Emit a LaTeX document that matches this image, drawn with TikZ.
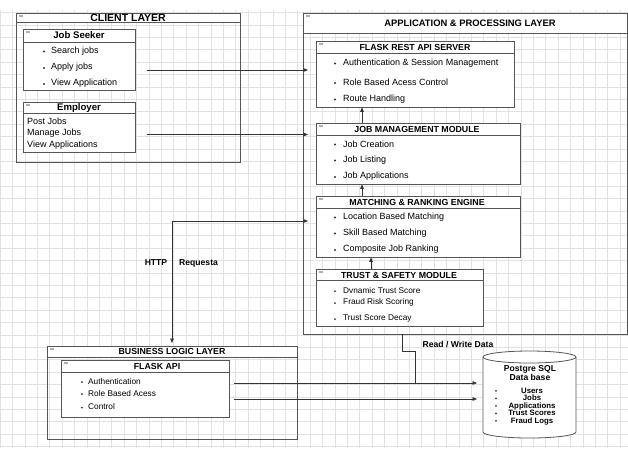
\documentclass[tikz,border=0pt]{standalone}
\usepackage{fontspec}
\setmainfont{Liberation Sans}
\usetikzlibrary{arrows.meta,fit}
\definecolor{linec}{HTML}{555555}
\definecolor{gridc}{HTML}{E2E2E2}
\definecolor{iconc}{HTML}{B0B0B0}
\begin{document}
\begin{tikzpicture}[x=1pt,y=-1pt,
  box/.style={draw=linec, line width=0.8pt, fill=white, inner sep=0pt},
  cont/.style={draw=linec, line width=0.8pt, inner sep=0pt},
  hl/.style={draw=linec, line width=0.7pt},
  bigttl/.style={font=\bfseries\fontsize{10.5}{12}\selectfont, inner sep=0pt},
  ttl/.style={font=\bfseries\fontsize{8.8}{10}\selectfont, inner sep=0pt},
  itm/.style={anchor=west, font=\fontsize{9}{10}\selectfont, inner sep=0pt},
  sitm/.style={anchor=west, font=\fontsize{8.3}{10}\selectfont, inner sep=0pt},
  lbl/.style={font=\bfseries\fontsize{8.6}{10}\selectfont, inner sep=0pt},
  dbt/.style={font=\bfseries\fontsize{8.6}{9}\selectfont, inner sep=0pt},
  dbi/.style={font=\bfseries\fontsize{7.8}{8}\selectfont, inner sep=0pt, anchor=base},
  bul/.style={fill=black!80},
  arr/.style={-{Triangle[length=4.5pt,width=3.6pt]}, line width=0.7pt, draw=black!80},
  darr/.style={{Triangle[length=4.5pt,width=3.6pt]}-{Triangle[length=4.5pt,width=3.6pt]}, line width=0.7pt, draw=black!80},
  ln/.style={line width=0.7pt, draw=black!80},
  icon/.style={fill=iconc}
]
\useasboundingbox (0,0) rectangle (628,448);
\fill[white] (0,0) rectangle (628,448);
\draw[gridc, line width=0.5pt, step=12.4pt] (0,10) grid (628,448);

% ---------------- CLIENT LAYER ----------------
\node[cont, fit={(16,13)(240,162)}] (client) {};
\filldraw[fill=white, draw=linec, line width=0.8pt] (16,13) rectangle (240,22);
\fill[icon] (19,15) rectangle (23,17);
\node[bigttl] (clientT) at (128,17.5) {CLIENT LAYER};

\node[box, fit={(23,29)(135,90)}] (js) {};
\draw[hl] (23,42) -- (135,42);
\fill[icon] (26,31) rectangle (30,33);
\node[ttl, font=\bfseries\fontsize{9.6}{11}\selectfont] (jsT) at (79,35.5) {Job Seeker};
\fill[bul] (44,51.5) circle (1.1);
\node[itm] (js1) at (51,51) {Search jobs};
\fill[bul] (44,68) circle (1.1);
\node[itm] (js2) at (51,67.5) {Apply jobs};
\fill[bul] (44,84) circle (1.1);
\node[itm] (js3) at (51,83.5) {View Application};

\node[box, fit={(23,102)(135,152)}] (emp) {};
\draw[hl] (23,113) -- (135,113);
\fill[icon] (26,104) rectangle (30,106);
\node[ttl, font=\bfseries\fontsize{9.6}{11}\selectfont] (empT) at (79,108) {Employer};
\node[itm] (emp1) at (27,121) {Post Jobs};
\node[itm] (emp2) at (27,133) {Manage Jobs};
\node[itm] (emp3) at (27,145.5) {View Applications};

% ---------------- APPLICATION LAYER ----------------
\node[cont, fit={(303,13)(627,334)}] (app) {};
\filldraw[fill=white, draw=linec, line width=0.8pt] (303,13) rectangle (627,33);
\fill[icon] (306,15) rectangle (310,17);
\node[ttl, font=\bfseries\fontsize{9.4}{11}\selectfont] (appT) at (470,23) {APPLICATION \& PROCESSING LAYER};

% Flask REST API server
\node[box, fit={(316,41)(514,107)}] (rest) {};
\draw[hl] (316,53) -- (514,53);
\fill[icon] (319,43) rectangle (323,45);
\node[ttl] (restT) at (415,47) {FLASK REST API SERVER};
\fill[bul] (335,63.5) circle (1.1);
\node[itm] (rest1) at (343,63) {Authentication \& Session Management};
\fill[bul] (335,83) circle (1.1);
\node[itm] (rest2) at (343,82.5) {Role Based Acess Control};
\fill[bul] (335,99.5) circle (1.1);
\node[itm] (rest3) at (343,99) {Route Handling};

% Job management module
\node[box, fit={(316,123)(520,184)}] (jmm) {};
\draw[hl] (316,135) -- (520,135);
\fill[icon] (319,125) rectangle (323,127);
\node[ttl] (jmmT) at (417,129) {JOB MANAGEMENT MODULE};
\fill[bul] (335,144.5) circle (1.1);
\node[itm] (jmm1) at (343,144) {Job Creation};
\fill[bul] (335,160.5) circle (1.1);
\node[itm] (jmm2) at (343,160) {Job Listing};
\fill[bul] (335,177) circle (1.1);
\node[itm] (jmm3) at (343,176.5) {Job Applications};

% Matching & ranking engine
\node[box, fit={(316,196)(520,257)}] (mre) {};
\draw[hl] (316,208) -- (520,208);
\fill[icon] (319,198) rectangle (323,200);
\node[ttl] (mreT) at (417,202) {MATCHING \& RANKING ENGINE};
\fill[bul] (335,217.5) circle (1.1);
\node[itm] (mre1) at (343,217) {Location Based Matching};
\fill[bul] (335,233.5) circle (1.1);
\node[itm] (mre2) at (343,233) {Skill Based Matching};
\fill[bul] (335,250) circle (1.1);
\node[itm] (mre3) at (343,249.5) {Composite Job Ranking};

% Trust & safety module
\node[box, fit={(316,269)(483,326)}] (tsm) {};
\draw[hl] (316,280) -- (483,280);
\fill[icon] (319,271) rectangle (323,273);
\node[ttl] (tsmT) at (399,275) {TRUST \& SAFETY MODULE};
\fill[bul] (335,291) circle (1.0);
\node[sitm] (tsm1) at (343,290.5) {Dvnamic Trust Score};
\fill[bul] (335,303) circle (1.0);
\node[sitm] (tsm2) at (343,302.5) {Fraud Risk Scoring};
\fill[bul] (335,319) circle (1.0);
\node[sitm] (tsm3) at (343,318.5) {Trust Score Decay};

% internal arrows
\draw[arr] (jmm.north -| 362,0) -- (rest.south -| 362,0);
\draw[arr] (mre.north -| 362,0) -- (jmm.south -| 362,0);
\draw[arr] (tsm.north -| 371,0) -- (mre.south -| 371,0);

% ---------------- BUSINESS LOGIC LAYER ----------------
\node[cont, fit={(47,346)(297,439)}] (bll) {};
\filldraw[fill=white, draw=linec, line width=0.8pt] (47,346) rectangle (297,357);
\fill[icon] (50,348) rectangle (54,350);
\node[ttl] (bllT) at (172,351.5) {BUSINESS LOGIC LAYER};

\node[box, fit={(61,360)(229,417)}] (fapi) {};
\draw[hl] (61,372) -- (229,372);
\fill[icon] (64,362) rectangle (68,364);
\node[ttl] (fapiT) at (157,366) {FLASK API};
\fill[bul] (82,382) circle (1.0);
\node[sitm] (fapi1) at (88,381.5) {Authentication};
\fill[bul] (82,394) circle (1.0);
\node[sitm] (fapi2) at (88,393.5) {Role Based Acess};
\fill[bul] (82,407.5) circle (1.0);
\node[sitm] (fapi3) at (88,407) {Control};

% ---------------- DATABASE ----------------
\node[inner sep=0, fit={(483,351)(576,438)}] (db) {};
\filldraw[fill=white, draw=linec, line width=0.8pt]
  (483,357) -- (483,432) arc[start angle=180, end angle=360, x radius=46.5pt, y radius=6pt]
  -- (576,357) arc[start angle=0, end angle=180, x radius=46.5pt, y radius=6pt] -- cycle;
\draw[linec, line width=0.8pt] (483,357) arc[start angle=180, end angle=360, x radius=46.5pt, y radius=6pt];
\node[dbt] (dbT1) at (530,369) {Postgre SQL};
\node[dbt] (dbT2) at (530,377.5) {Data base};
\foreach \yy/\tt/\nn in {393/Users/u, 400.5/Jobs/j, 408/Applications/a, 415.5/Trust Scores/t, 423/Fraud Logs/f}{
  \fill[bul] (496,\yy-2.2) circle (1.0);
  \node[dbi] (db\nn) at (532,\yy) {\tt};
}

% ---------------- CONNECTORS ----------------
\coordinate (c1s) at (147,70);
\coordinate (c1e) at (308,70);
\coordinate (c2s) at (147,134.5);
\coordinate (c2e) at (308,134.5);
\draw[arr] (c1s) -- (c1e);
\draw[arr] (c2s) -- (c2e);

\coordinate (hE) at (308,221);
\coordinate (hC) at (172,221);
\coordinate (hB) at (172,343);
\draw[darr] (hE) -- (hC) -- (hB);
\node[lbl] (http) at (156,263) {HTTP};
\node[lbl, anchor=west] (req) at (179,263) {Requesta};

\coordinate (d1s) at (234,383);
\coordinate (d1e) at (477,383);
\coordinate (d2s) at (234,399);
\coordinate (d2e) at (477,399);
\draw[arr] (d1s) -- (d1e);
\draw[arr] (d2s) -- (d2e);

\coordinate (rwJ) at (415,383);
\draw[ln] (app.south -| 402,0) -- (402,351) -- (415,351) -- (rwJ);
\node[lbl] (rw) at (458,344) {Read / Write Data};
\end{tikzpicture}
\end{document}
